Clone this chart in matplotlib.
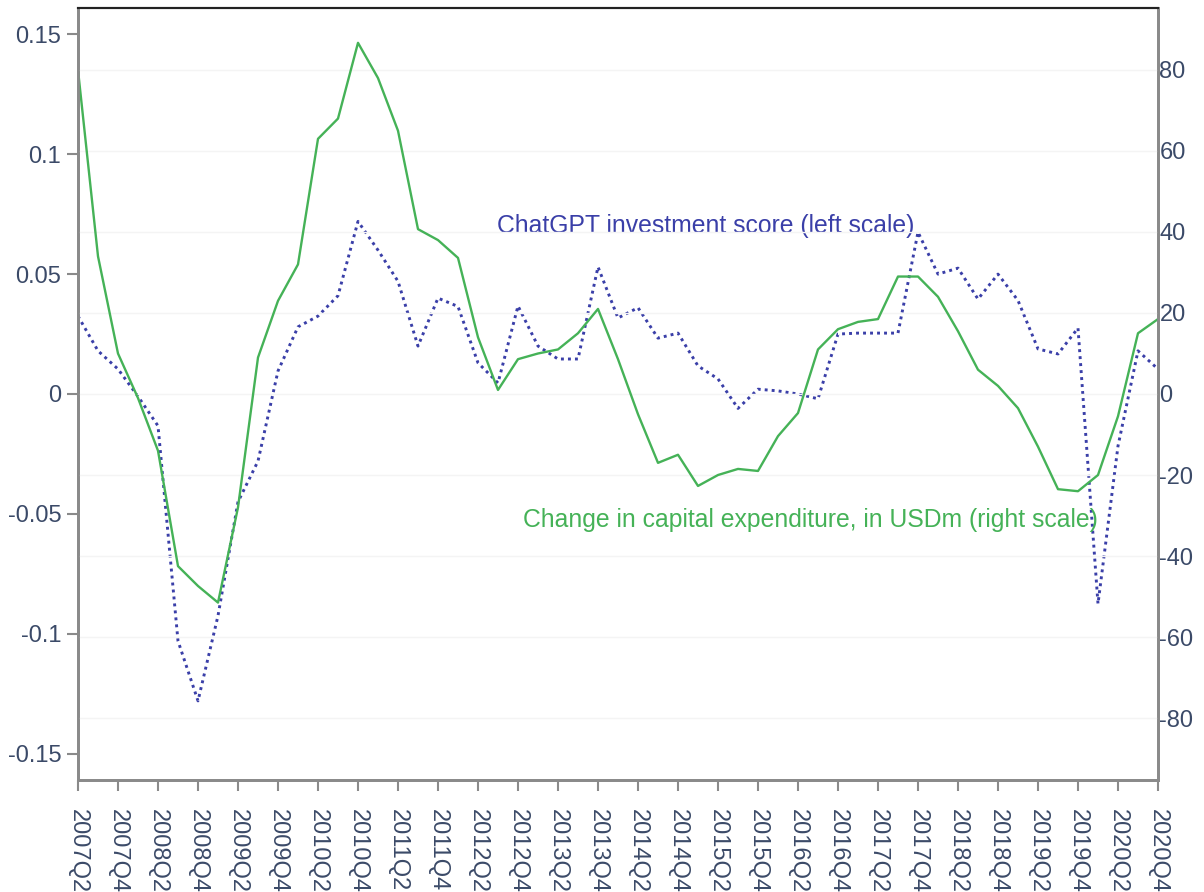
import matplotlib
matplotlib.use("Agg")
import matplotlib.pyplot as plt

plt.rcParams['font.family'] = ['Liberation Sans', 'DejaVu Sans']
plt.rcParams['axes.unicode_minus'] = False

# quarters 2007Q2 .. 2020Q4
quarters = []
for y in range(2007, 2021):
    for q in range(1, 5):
        if (y, q) >= (2007, 2):
            quarters.append(f"{y}Q{q}")

# ChatGPT investment score (left scale)
score = [0.0325, 0.018, 0.0104, -0.001, -0.0133, -0.103, -0.128, -0.0925, -0.045, -0.028,
         0.0096, 0.028, 0.0325, 0.041, 0.072, 0.06, 0.047, 0.020, 0.040, 0.0365,
         0.013, 0.0046, 0.0367, 0.020, 0.0146, 0.0146, 0.053, 0.0317, 0.036, 0.0233,
         0.0254, 0.0117, 0.0063, -0.006, 0.002, 0.0013, 0.0, -0.002, 0.025, 0.0254,
         0.0254, 0.0254, 0.0675, 0.050, 0.0525, 0.0396, 0.050, 0.039, 0.0188, 0.0167,
         0.0275, -0.0875, -0.0217, 0.018, 0.0104]

# Change in capital expenditure, USDm (right scale)
capex = [80, 34, 10, -1, -14, -42.5, -47.4, -51.5, -28, 9,
         23, 32, 63, 68, 86.7, 78, 65, 40.7, 38, 33.6,
         14, 1, 8.6, 10, 11, 15, 21, 8.6, -5, -17,
         -15, -22.7, -20, -18.5, -19, -10.4, -4.7, 11, 16, 17.8,
         18.5, 29, 29, 24, 15.5, 6, 2, -3.5, -13, -23.5,
         -24, -20, -5.5, 15, 18.5]

left_ticks = [0.15, 0.1, 0.05, 0, -0.05, -0.1, -0.15]
left_labels = ["0.15", "0.1", "0.05", "0", "-0.05", "-0.1", "-0.15"]
right_ticks = [80, 60, 40, 20, 0, -20, -40, -60, -80]

label_col = '#3b4a68'
blue = '#3a3fa8'
green = '#45b257'
spine_col = '#8a8a8a'

fig = plt.figure(figsize=(12.04, 8.92), dpi=100)
ax = fig.add_axes([78/1204, 1-780/892, 1080/1204, 772/892])
ax2 = ax.twinx()

x = list(range(len(quarters)))
ax.plot(x, score, color=blue, lw=2.1, linestyle=(0, (1.0, 1.4)))
ax2.plot(x, capex, color=green, lw=1.7)

ax.set_xlim(0, len(quarters)-1)
ax.set_ylim(-0.161, 0.161)
ax2.set_ylim(-95.3, 95.3)

ax.set_xticks(x[::2])
ax.set_xticklabels(quarters[::2], rotation=-90, va='top', ha='center')
ax.set_yticks(left_ticks)
ax.set_yticklabels(left_labels)
ax2.set_yticks(right_ticks)
ax2.set_yticklabels([str(t) for t in right_ticks])

ax2.yaxis.grid(True, color='#f4f4f4', lw=1)
ax2.set_axisbelow(True)

ax.tick_params(axis='x', length=8, width=1.5, color=spine_col, pad=13, labelsize=17, labelcolor=label_col)
ax.tick_params(axis='y', length=8, width=1.5, color=spine_col, pad=4, labelsize=17, labelcolor=label_col)
ax2.tick_params(axis='y', length=0, pad=1, labelsize=17, labelcolor=label_col)

for a in (ax, ax2):
    for s in ('left', 'bottom', 'right'):
        a.spines[s].set_color(spine_col)
        a.spines[s].set_linewidth(2)
    a.spines['top'].set_color('#222222')
    a.spines['top'].set_linewidth(1.5)

ax.text(0.388, 0.7176, "ChatGPT investment score (left scale)", transform=ax.transAxes,
        color=blue, fontsize=17.8, va='center', ha='left')
ax.text(0.412, 0.3368, "Change in capital expenditure, in USDm (right scale)", transform=ax.transAxes,
        color=green, fontsize=17.8, va='center', ha='left')

fig.savefig("out.png", dpi=100)
